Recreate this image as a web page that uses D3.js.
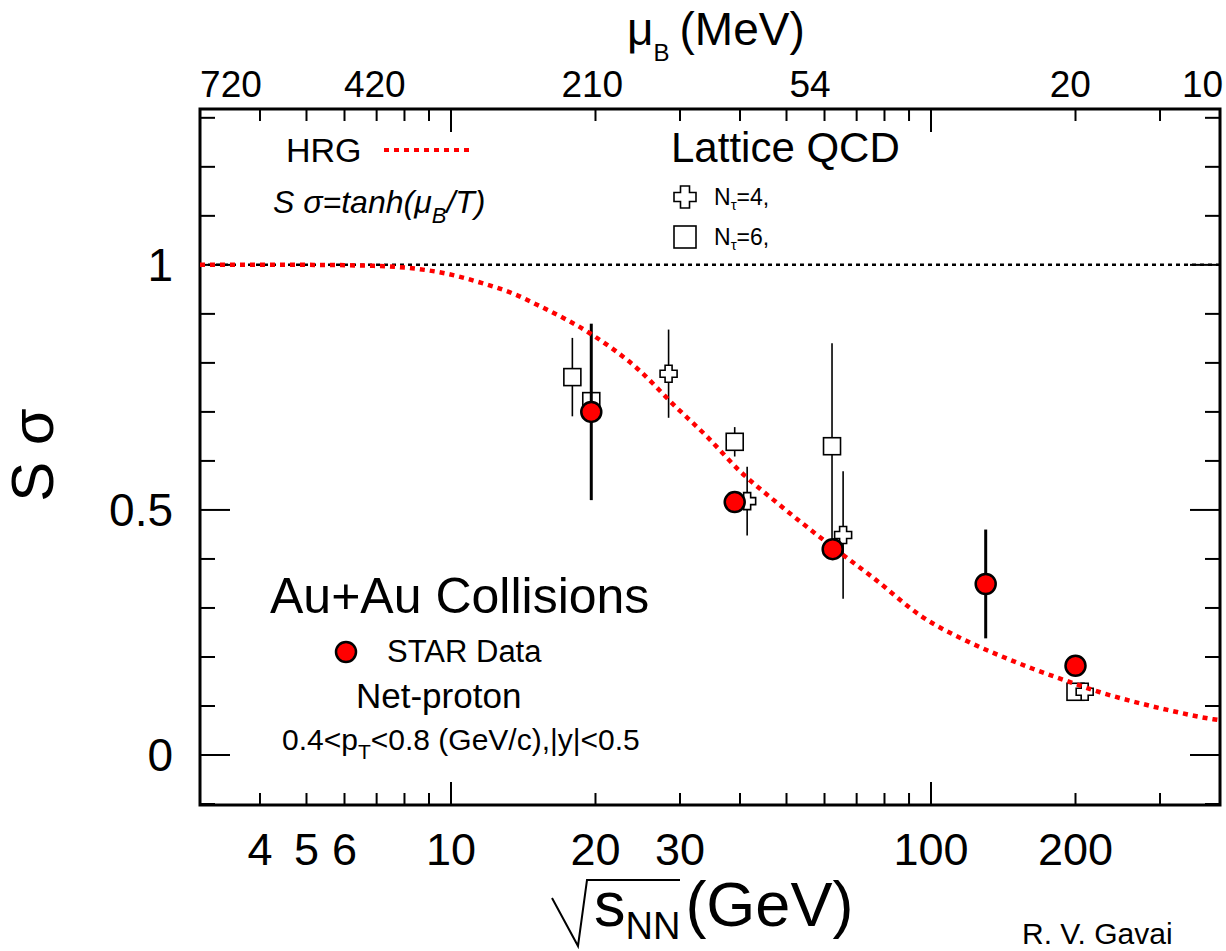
<html>
<head>
  <meta charset="UTF-8">
  <title>S sigma vs sqrt(s_NN)</title>
  <style>
    body { margin: 0; background: #fff; }
    svg text { font-family: "Liberation Sans", Arial, Helvetica, sans-serif; fill: #000; }
  </style>
</head>
<body>
<svg id="chart"></svg>
<script src="https://d3js.org/d3.v7.min.js"></script>
<script>
let width = 1226, height = 951;

// HRG curve
let hrgEnergy = [3, 5, 6.9, 8.3, 9.8, 11.5, 13.5, 15.3, 19.5, 24.8, 29, 34.2, 40, 46.9, 55.2, 64.6, 75.7, 96.2, 119, 139, 163, 192, 225, 264, 311, 387, 400];
let hrgValue  = [1, 1, 0.998, 0.993, 0.982, 0.964, 0.941, 0.916, 0.860, 0.783, 0.716, 0.649, 0.579, 0.521, 0.465, 0.413, 0.362, 0.281, 0.232, 0.203, 0.176, 0.151, 0.128, 0.109, 0.092, 0.073, 0.071];

// STAR net-proton data
let starEnergy = [19.6, 39, 62.4, 130, 200];
let starValue  = [0.70, 0.516, 0.42, 0.349, 0.182];
let starError  = [0.18, 0.015, 0.015, 0.111, 0.01];

// Lattice QCD, N_tau = 4 (crosses)
let nt4Energy = [28.4, 41.4, 65.6, 209];
let nt4Value  = [0.778, 0.518, 0.449, 0.129];
let nt4Error  = [0.09, 0.07, 0.13, 0];

// Lattice QCD, N_tau = 6 (squares)
let nt6Energy = [17.9, 19.6, 39, 62.2, 200];
let nt6Value  = [0.771, 0.722, 0.639, 0.630, 0.129];
let nt6Error  = [0.08, 0, 0.03, 0.21, 0];

// axis ticks
let xMinorTicks = [4, 5, 6, 7, 8, 9, 20, 30, 40, 50, 60, 70, 80, 90, 200, 300];
let xMajorTicks = [10, 100];
let xTickLabels = [4, 5, 6, 10, 20, 30, 100, 200];
let yMajorTicks = [0, 0.5, 1];
let yLabels = ["0", "0.5", "1"];
let muLabels = ["720", "420", "210", "54", "20", "10"];
let muEnergy = [3.48, 6.94, 19.7, 56, 195, 368];

let svg = d3.select("#chart").attr("width", width).attr("height", height);

let x = d3.scaleLog().domain([3, 400]).range([200, 1220]);
let y = d3.scaleLinear().domain([-0.102, 1.318]).range([805, 109]);

let x0 = x.range()[0], x1 = x.range()[1];
let y0 = y.range()[0], y1 = y.range()[1];

// y = 1 reference line
svg.append("line")
  .attr("x1", x0).attr("x2", x1)
  .attr("y1", y(1)).attr("y2", y(1))
  .attr("stroke", "#000").attr("stroke-width", 2.5)
  .attr("stroke-dasharray", "4,4");

// ---- ticks ----
let yMinor = d3.range(-0.1, 1.31, 0.1).map(v => Math.round(v * 10) / 10)
  .filter(v => yMajorTicks.indexOf(v) < 0);

let ticks = svg.append("g").attr("stroke", "#000").attr("stroke-width", 2);
// left + right
[[yMinor, 15], [yMajorTicks, 30]].forEach(([vals, len]) => {
  vals.forEach(v => {
    ticks.append("line").attr("x1", x0).attr("x2", x0 + len).attr("y1", y(v)).attr("y2", y(v));
    ticks.append("line").attr("x1", x1).attr("x2", x1 - len).attr("y1", y(v)).attr("y2", y(v));
  });
});
// bottom + top
[[xMinorTicks, 12], [xMajorTicks, 23]].forEach(([vals, len]) => {
  vals.forEach(v => {
    ticks.append("line").attr("x1", x(v)).attr("x2", x(v)).attr("y1", y0).attr("y2", y0 - len);
    ticks.append("line").attr("x1", x(v)).attr("x2", x(v)).attr("y1", y1).attr("y2", y1 + len);
  });
});

// frame
svg.append("rect")
  .attr("x", x0).attr("y", y1)
  .attr("width", x1 - x0).attr("height", y0 - y1)
  .attr("fill", "none").attr("stroke", "#000").attr("stroke-width", 3);

// tick labels
svg.append("g").selectAll("text")
  .data(xTickLabels).enter().append("text")
  .attr("x", d => x(d)).attr("y", 865)
  .attr("text-anchor", "middle").attr("font-size", 45)
  .text(d => d);

svg.append("g").selectAll("text")
  .data(yMajorTicks).enter().append("text")
  .attr("x", 173).attr("y", d => y(d) + 16)
  .attr("text-anchor", "end").attr("font-size", 46)
  .text((d, i) => yLabels[i]);

svg.append("g").selectAll("text")
  .data(muLabels).enter().append("text")
  .attr("x", (d, i) => x(muEnergy[i])).attr("y", 97)
  .attr("text-anchor", "middle").attr("font-size", 37)
  .text(d => d);

// axis titles
let muTitle = svg.append("text").attr("x", 627).attr("y", 45).attr("font-size", 46);
muTitle.append("tspan").text("μ");
muTitle.append("tspan").attr("dy", 16).attr("font-size", 24).text("B");
muTitle.append("tspan").attr("dy", -16).attr("dx", 10).text("(MeV)");

svg.append("text")
  .attr("transform", "translate(53,455) rotate(-90)")
  .attr("text-anchor", "middle").attr("font-size", 60)
  .text("S σ");

svg.append("path")
  .attr("d", "M552,898 L578,946 L587,880 L680,880")
  .attr("fill", "none").attr("stroke", "#000").attr("stroke-width", 2);
let xTitle = svg.append("text").attr("x", 594).attr("y", 926).attr("font-size", 63);
xTitle.append("tspan").text("s");
xTitle.append("tspan").attr("dy", 13).attr("font-size", 38).text("NN");
xTitle.append("tspan").attr("dy", -13).attr("dx", 5).text("(GeV)");

// ---- lattice points ----
function crossPath(s, a) {
  return `M${-a},${-s}H${a}V${-a}H${s}V${a}H${a}V${s}H${-a}V${a}H${-s}V${-a}H${-a}Z`;
}

function errBars(g, en, val, err, w) {
  g.selectAll(null)
    .data(en.map((e, i) => [e, val[i], err[i]]).filter(d => d[2] > 0))
    .enter().append("line")
    .attr("x1", d => x(d[0])).attr("x2", d => x(d[0]))
    .attr("y1", d => y(d[1] - d[2])).attr("y2", d => y(d[1] + d[2]))
    .attr("stroke", "#000").attr("stroke-width", w);
}

let lat = svg.append("g");
errBars(lat, nt6Energy, nt6Value, nt6Error, 1.6);
errBars(lat, nt4Energy, nt4Value, nt4Error, 1.6);

lat.selectAll(null)
  .data(nt6Energy).enter().append("rect")
  .attr("x", (d) => x(d) - 8.5).attr("y", (d, i) => y(nt6Value[i]) - 8.5)
  .attr("width", 17).attr("height", 17)
  .attr("fill", "#fff").attr("stroke", "#000").attr("stroke-width", 1.6);

lat.selectAll(null)
  .data(nt4Energy).enter().append("path")
  .attr("d", crossPath(8.5, 3.5))
  .attr("transform", (d, i) => `translate(${x(d)},${y(nt4Value[i])})`)
  .attr("fill", "#fff").attr("stroke", "#000").attr("stroke-width", 1.6);

// STAR error bars
errBars(svg.append("g"), starEnergy, starValue, starError, 3);

// HRG curve
let hrgLine = d3.line()
  .x((d, i) => x(hrgEnergy[i]))
  .y(d => y(d))
  .curve(d3.curveMonotoneX);

svg.append("path")
  .datum(hrgValue)
  .attr("d", hrgLine)
  .attr("fill", "none").attr("stroke", "#ff0000")
  .attr("stroke-width", 4.5).attr("stroke-dasharray", "5,5");

// STAR points
svg.append("g").selectAll("circle")
  .data(starEnergy).enter().append("circle")
  .attr("cx", d => x(d)).attr("cy", (d, i) => y(starValue[i]))
  .attr("r", 10)
  .attr("fill", "#ff0000").attr("stroke", "#000").attr("stroke-width", 2.5);

// ---- legends / annotations ----
svg.append("text").attr("x", 286).attr("y", 162).attr("font-size", 34).text("HRG");
svg.append("line")
  .attr("x1", 384).attr("x2", 473).attr("y1", 150).attr("y2", 150)
  .attr("stroke", "#ff0000").attr("stroke-width", 4).attr("stroke-dasharray", "5,5");

let formula = svg.append("text").attr("x", 273).attr("y", 213)
  .attr("font-size", 32).attr("font-style", "italic");
formula.append("tspan").text("S σ=tanh(μ");
formula.append("tspan").attr("dy", 10).attr("font-size", 22).text("B");
formula.append("tspan").attr("dy", -10).text("/T)");

svg.append("text").attr("x", 671).attr("y", 162).attr("font-size", 42).text("Lattice QCD");

svg.append("path").attr("d", crossPath(11, 4.5))
  .attr("transform", "translate(685,197)")
  .attr("fill", "#fff").attr("stroke", "#000").attr("stroke-width", 1.6);
svg.append("rect").attr("x", 674).attr("y", 226).attr("width", 22).attr("height", 22)
  .attr("fill", "#fff").attr("stroke", "#000").attr("stroke-width", 1.6);

[["4", 205], ["6", 245]].forEach(([n, yy]) => {
  let t = svg.append("text").attr("x", 714).attr("y", yy).attr("font-size", 23);
  t.append("tspan").text("N");
  t.append("tspan").attr("dy", 5).attr("font-size", 15).text("τ");
  t.append("tspan").attr("dy", -5).text("=" + n + ",");
});

svg.append("text").attr("x", 270).attr("y", 613).attr("font-size", 50).text("Au+Au Collisions");
svg.append("circle").attr("cx", 346).attr("cy", 652).attr("r", 10)
  .attr("fill", "#ff0000").attr("stroke", "#000").attr("stroke-width", 2.5);
svg.append("text").attr("x", 387).attr("y", 662).attr("font-size", 31).text("STAR Data");
svg.append("text").attr("x", 356).attr("y", 708).attr("font-size", 35).text("Net-proton");

let cuts = svg.append("text").attr("x", 282).attr("y", 750).attr("font-size", 30);
cuts.append("tspan").text("0.4<p");
cuts.append("tspan").attr("dy", 9).attr("font-size", 21).text("T");
cuts.append("tspan").attr("dy", -9).text("<0.8 (GeV/c),|y|<0.5");

svg.append("text").attr("x", 1022).attr("y", 944).attr("font-size", 30).text("R. V. Gavai");
</script>
</body>
</html>
